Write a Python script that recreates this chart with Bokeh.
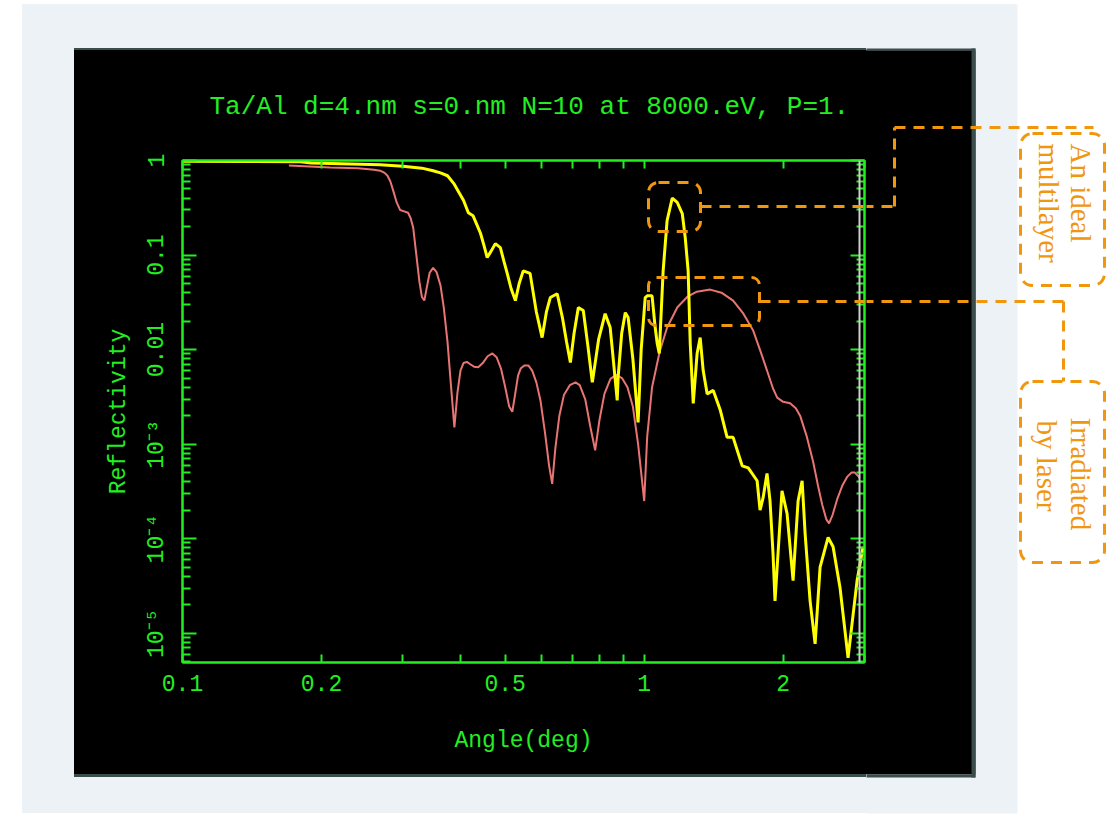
import math

from bokeh.plotting import figure
from bokeh.layouts import row, column
from bokeh.models import (ColumnDataSource, LogAxis, FixedTicker, CustomJSTickFormatter,
                          BoxAnnotation, Arrow, Label, Spacer)
from bokeh.embed import file_html
from bokeh.resources import INLINE

# Ta/Al multilayer (d=4 nm, N=10) X-ray reflectivity at 8000 eV
ideal_angle = [0.100, 0.180, 0.190, 0.268, 0.300, 0.330, 0.349, 0.362, 0.375, 0.387,
               0.397, 0.406, 0.416, 0.426, 0.434, 0.442, 0.450, 0.457, 0.466, 0.476,
               0.488, 0.497, 0.505, 0.515, 0.526, 0.536, 0.547, 0.566, 0.584, 0.601,
               0.614, 0.626, 0.648, 0.665, 0.679, 0.692, 0.705, 0.720, 0.738, 0.755,
               0.772, 0.797, 0.823, 0.844, 0.874, 0.878, 0.894, 0.910, 0.923, 0.945,
               0.970, 0.985, 1.005, 1.015, 1.040, 1.055, 1.067, 1.078, 1.099, 1.121,
               1.150, 1.179, 1.209, 1.227, 1.245, 1.258, 1.277, 1.302, 1.322, 1.342,
               1.369, 1.411, 1.461, 1.512, 1.558, 1.630, 1.680, 1.756, 1.782, 1.809,
               1.845, 1.873, 1.901, 1.920, 1.988, 2.039, 2.101, 2.154, 2.198, 2.231,
               2.287, 2.345, 2.404, 2.502, 2.565, 2.656, 2.764, 2.891, 2.979]
ideal_refl = [0.98, 0.97, 0.94, 0.90, 0.87, 0.83, 0.78, 0.74, 0.69, 0.57,
              0.46, 0.38, 0.28, 0.26, 0.21, 0.17, 0.125, 0.094, 0.11, 0.132,
              0.12, 0.085, 0.064, 0.044, 0.033, 0.05, 0.068, 0.064, 0.025, 0.0134,
              0.025, 0.0355, 0.039, 0.0218, 0.012, 0.0073, 0.015, 0.0278, 0.0259, 0.011,
              0.0045, 0.013, 0.024, 0.0171, 0.0029, 0.0051, 0.015, 0.0246, 0.0218, 0.008,
              0.0017, 0.010, 0.0355, 0.037, 0.037, 0.018, 0.0116, 0.0091, 0.068, 0.232,
              0.40, 0.36, 0.275, 0.153, 0.068, 0.0116, 0.0027, 0.0091, 0.0134, 0.0060,
              0.0034, 0.0037, 0.0023, 0.00118, 0.00118, 5.9e-4, 5.6e-4, 4.1e-4, 2.0e-4, 2.7e-4,
              4.9e-4, 2.5e-4, 7.0e-5, 2.2e-5, 3.2e-4, 1.84e-4, 3.6e-5, 2.5e-4, 4.1e-4, 1.13e-4,
              2.2e-5, 7.7e-6, 5.0e-5, 1.03e-4, 8.2e-5, 3.0e-5, 5.5e-6, 3.6e-5, 8.2e-5]

laser_angle = [0.170, 0.209, 0.240, 0.260, 0.268, 0.274, 0.278, 0.282, 0.286, 0.291,
               0.296, 0.302, 0.308, 0.312, 0.316, 0.321, 0.326, 0.330, 0.334, 0.338,
               0.343, 0.349, 0.355, 0.362, 0.368, 0.375, 0.381, 0.388, 0.394, 0.400,
               0.406, 0.413, 0.420, 0.428, 0.437, 0.447, 0.458, 0.469, 0.479, 0.490,
               0.500, 0.510, 0.518, 0.526, 0.533, 0.540, 0.550, 0.561, 0.572, 0.584,
               0.596, 0.610, 0.622, 0.632, 0.642, 0.655, 0.670, 0.690, 0.710, 0.725,
               0.745, 0.765, 0.783, 0.800, 0.820, 0.845, 0.870, 0.895, 0.920, 0.945,
               0.970, 0.985, 1.000, 1.015, 1.040, 1.080, 1.121, 1.180, 1.239, 1.300,
               1.390, 1.470, 1.558, 1.640, 1.722, 1.790, 1.845, 1.900, 1.941, 2.000,
               2.070, 2.130, 2.176, 2.250, 2.322, 2.380, 2.429, 2.480, 2.514, 2.560,
               2.617, 2.690, 2.751, 2.810, 2.860, 2.930]
laser_refl = [0.885, 0.845, 0.83, 0.80, 0.78, 0.74, 0.69, 0.60, 0.48, 0.36,
              0.30, 0.29, 0.28, 0.245, 0.195, 0.10, 0.052, 0.036, 0.033, 0.045,
              0.065, 0.073, 0.066, 0.048, 0.028, 0.012, 0.0045, 0.0015, 0.0035, 0.0060,
              0.0072, 0.0074, 0.0070, 0.0066, 0.0065, 0.0072, 0.0085, 0.0091, 0.0083, 0.0062,
              0.0040, 0.0025, 0.0022, 0.0035, 0.0053, 0.0063, 0.0068, 0.0068, 0.0060, 0.0045,
              0.0029, 0.0013, 6.0e-4, 3.8e-4, 9.0e-4, 0.0020, 0.0033, 0.0042, 0.0045, 0.0042,
              0.0030, 0.0015, 8.6e-4, 0.0018, 0.0034, 0.0049, 0.0054, 0.0050, 0.0040, 0.0025,
              0.0010, 5.0e-4, 2.5e-4, 0.0012, 0.0040, 0.0095, 0.0171, 0.028, 0.036, 0.041,
              0.0431, 0.040, 0.033, 0.024, 0.0159, 0.0093, 0.0060, 0.0039, 0.0031, 0.0028,
              0.0027, 0.0024, 0.0020, 0.0012, 6.5e-4, 3.6e-4, 2.3e-4, 1.6e-4, 1.45e-4, 1.8e-4,
              2.6e-4, 3.7e-4, 4.5e-4, 5.0e-4, 5.0e-4, 4.4e-4]

x_major = [0.1, 0.2, 0.5, 1.0, 2.0]
x_major_labels = ["0.1", "0.2", "0.5", "1", "2"]
x_minor = [0.3, 0.4, 0.6, 0.7, 0.8, 0.9, 3.0]
y_major = [1e-5, 1e-4, 1e-3, 1e-2, 1e-1, 1.0]
y_major_labels = ["10\u207b\u2075", "10\u207b\u2074", "10\u207b\u00b3", "0.01", "0.1", "1"]
y_minor = [m * 10.0 ** e for e in range(-6, 0) for m in range(2, 10)]

title_text = "Ta/Al d=4.nm s=0.nm N=10 at 8000.eV, P=1."
x_title = "Angle(deg)"
y_title = "Reflectivity"
callout_ideal = ["An ideal", "multilayer"]
callout_laser = ["Irradiated", "by laser"]

# page geometry in page pixels (origin top-left)
W, H = 1106, 815
PLATE_L, PLATE_R, PLATE_T, PLATE_B = 74, 975, 50, 774
PANEL_L, PANEL_R, PANEL_T, PANEL_B = 22, 1017, 4, 813
FL, FR, FT, FB = 182, 864, 160, 662
SPLIT = 866            # chart canvas ends here, the side canvas starts here

GREEN = "#22ee22"
YELLOW = "#ffff00"
PINK = "#e87474"
ORANGE = "#f0960f"
SLATE = "#3b4d4a"
PANEL = "#edf2f7"
MONO = "Liberation Mono"
SERIF = "Liberation Serif"
DASH = "11 8"


def sx(px):
    # screen units of in-frame annotations count from the frame's bottom-left corner
    return px - FL


def sy(py):
    return FB - py


# ---------------------------------------------------------------- chart
p = figure(width=SPLIT - PLATE_L, height=PLATE_B - PLATE_T,
           x_axis_type="log", y_axis_type="log",
           x_range=(0.1, 3.0), y_range=(4.9e-6, 1.0),
           output_backend="svg", toolbar_location=None,
           min_border_left=FL - PLATE_L, min_border_right=SPLIT - FR,
           min_border_top=FT - PLATE_T, min_border_bottom=PLATE_B - FB,
           styles={"box-shadow": f"0 -2px 0 0 {SLATE}, 0 3px 0 0 {SLATE}"})
p.background_fill_color = "black"
p.border_fill_color = "black"
p.outline_line_color = GREEN
p.outline_line_width = 2
p.grid.visible = False

p.title.text = title_text
p.title.text_color = GREEN
p.title.text_font = MONO
p.title.text_font_size = "26px"
p.title.text_font_style = "normal"
p.title.align = "left"
p.title.offset = 27
p.title.standoff = 78


def label_formatter(values, labels):
    return CustomJSTickFormatter(args=dict(vals=values, labs=labels), code="""
        for (let i = 0; i < vals.length; i++) {
            if (Math.abs(Math.log10(vals[i]) - Math.log10(tick)) < 1e-6) { return labs[i]; }
        }
        return "";
    """)


def blank_formatter():
    return CustomJSTickFormatter(code="return '';")


def style_axis(ax, tick_major, tick_minor):
    ax.axis_line_color = GREEN
    ax.axis_line_width = 2
    ax.major_tick_line_color = GREEN
    ax.minor_tick_line_color = GREEN
    ax.major_tick_line_width = 2
    ax.minor_tick_line_width = 2
    ax.major_tick_in = tick_major
    ax.major_tick_out = 0
    ax.minor_tick_in = tick_minor
    ax.minor_tick_out = 0
    ax.major_label_text_color = GREEN
    ax.major_label_text_font = MONO
    ax.major_label_text_font_size = "23px"
    ax.axis_label_text_color = GREEN
    ax.axis_label_text_font = MONO
    ax.axis_label_text_font_size = "23px"
    ax.axis_label_text_font_style = "normal"


x_ticker = FixedTicker(ticks=x_major, minor_ticks=x_minor)
y_ticker = FixedTicker(ticks=y_major, minor_ticks=y_minor)

xb = p.below[0]
xb.ticker = x_ticker
xb.formatter = label_formatter(x_major, x_major_labels)
style_axis(xb, 8, 8)
xb.major_label_standoff = 12
xb.axis_label = x_title
xb.axis_label_standoff = 34

yl = p.left[0]
yl.ticker = y_ticker
yl.formatter = label_formatter(y_major, y_major_labels)
style_axis(yl, 14, 8)
yl.major_label_orientation = "vertical"
yl.major_label_standoff = 12
yl.axis_label = y_title
yl.axis_label_standoff = 10

for side, ticker, tmaj in (("above", x_ticker, 8), ("right", y_ticker, 14)):
    ax = LogAxis(ticker=ticker, formatter=blank_formatter())
    style_axis(ax, tmaj, 8)
    ax.major_label_text_font_size = "0px"
    ax.major_label_standoff = 0
    p.add_layout(ax, side)

ideal = ColumnDataSource(dict(x=ideal_angle, y=ideal_refl))
laser = ColumnDataSource(dict(x=laser_angle, y=laser_refl))
p.line("x", "y", source=laser, line_color=PINK, line_width=2)
p.line("x", "y", source=ideal, line_color=YELLOW, line_width=3)

# cursor line near the right edge
p.add_layout(BoxAnnotation(left=sx(858), right=sx(860), top=sy(FT), bottom=sy(FB),
                           left_units="screen", right_units="screen",
                           top_units="screen", bottom_units="screen",
                           fill_color="#cfcfcf", fill_alpha=1, line_alpha=0))


def frame_box(l, r, t, b, radius):
    p.add_layout(BoxAnnotation(left=sx(l), right=sx(r), top=sy(t), bottom=sy(b),
                               left_units="screen", right_units="screen",
                               top_units="screen", bottom_units="screen",
                               fill_alpha=0, line_color=ORANGE, line_alpha=1,
                               line_width=3, line_dash=DASH, border_radius=radius))


def frame_segment(x0, y0, x1, y1):
    p.add_layout(Arrow(x_start=sx(x0), y_start=sy(y0), x_end=sx(x1), y_end=sy(y1),
                       start_units="screen", end_units="screen", end=None,
                       line_color=ORANGE, line_width=3, line_dash=DASH))


frame_box(648, 700, 182, 231, 10)
frame_segment(700, 206, SPLIT, 206)
frame_box(648, 759, 277, 325, 8)
frame_segment(759, 301, SPLIT, 301)

# ---------------------------------------------------------------- side canvas
q = figure(width=W - SPLIT, height=H, x_range=(SPLIT, W), y_range=(H, 0),
           x_axis_location=None, y_axis_location=None,
           output_backend="svg", toolbar_location=None,
           min_border=0, min_border_left=0, min_border_right=0,
           min_border_top=0, min_border_bottom=0)
q.title.visible = False
q.outline_line_color = None
q.grid.visible = False
# transparent fills: the page bands show through, so the canvas seam stays invisible
q.background_fill_alpha = 0
q.border_fill_alpha = 0

# white margin, then the panel bands around the plate, then the plate itself
q.quad(left=PANEL_R - 2, right=W + 4, top=-4, bottom=H + 4,
       fill_color="white", line_color=None)
q.quad(left=[SPLIT - 4, SPLIT - 4, PLATE_R - 1], right=[PANEL_R, PANEL_R, PANEL_R],
       top=[PANEL_T, PLATE_B, PLATE_T - 1], bottom=[PLATE_T, PANEL_B, PLATE_B + 1],
       fill_color=PANEL, line_color=None)
q.quad(left=SPLIT - 4, right=PLATE_R, top=PLATE_T, bottom=PLATE_B,
       fill_color="black", line_color=None)
q.quad(left=[PLATE_R - 4, SPLIT - 4, SPLIT - 4], right=[PLATE_R, PLATE_R, PLATE_R],
       top=[PLATE_T - 2, PLATE_T - 2, PLATE_B], bottom=[PLATE_B + 3, PLATE_T, PLATE_B + 3],
       fill_color=SLATE, line_color=None)

q.segment(x0=[SPLIT - 4, 894, 894, SPLIT - 4, 1063], y0=[206, 206, 127, 301, 301],
          x1=[894, 894, 1093, 1063, 1063], y1=[206, 127, 127, 301, 381],
          line_color=ORANGE, line_width=3, line_dash=DASH)

for t, b in ((133, 285), (381, 562)):
    q.add_layout(BoxAnnotation(left=1020, right=1104, top=t, bottom=b,
                               fill_alpha=0, line_color=ORANGE, line_alpha=1,
                               line_width=3, line_dash=DASH, border_radius=12))

for text, x, y in ((callout_ideal[0], 1080, 143), (callout_ideal[1], 1048, 143),
                   (callout_laser[0], 1080, 417), (callout_laser[1], 1046, 420)):
    q.add_layout(Label(x=x, y=y, text=text, angle=-math.pi / 2,
                       text_align="left", text_baseline="middle",
                       text_color=ORANGE, text_font=SERIF, text_font_size="29px"))

# ---------------------------------------------------------------- page
plate_row = row(
    Spacer(width=PLATE_L, height=PLATE_B - PLATE_T,
           styles={"background": f"linear-gradient(to right, #ffffff {PANEL_L}px, "
                                 f"{PANEL} {PANEL_L}px)"}),
    p,
    width=SPLIT, height=PLATE_B - PLATE_T,
    styles={"background": "#000000"})
left_part = column(
    Spacer(width=SPLIT, height=PLATE_T),
    plate_row,
    Spacer(width=SPLIT, height=H - PLATE_B),
    width=SPLIT, height=H,
    styles={"background": (f"linear-gradient(to right, #ffffff {PANEL_L}px, "
                           f"rgba(255,255,255,0) {PANEL_L}px), "
                           f"linear-gradient(to bottom, #ffffff {PANEL_T}px, {PANEL} {PANEL_T}px, "
                           f"{PANEL} {PANEL_B}px, #ffffff {PANEL_B}px)")})
# the page background repeats the panel/plate bands behind the side canvas
page = row(left_part, q, width=W, height=H,
           styles={"background": (f"linear-gradient(to bottom, #ffffff {PANEL_T}px, "
                                  f"{PANEL} {PANEL_T}px, {PANEL} {PLATE_T}px, "
                                  f"#000000 {PLATE_T}px, #000000 {PLATE_B}px, "
                                  f"{PANEL} {PLATE_B}px, {PANEL} {PANEL_B}px, "
                                  f"#ffffff {PANEL_B}px)")})

open("out.html", "w").write(file_html(page, INLINE))
